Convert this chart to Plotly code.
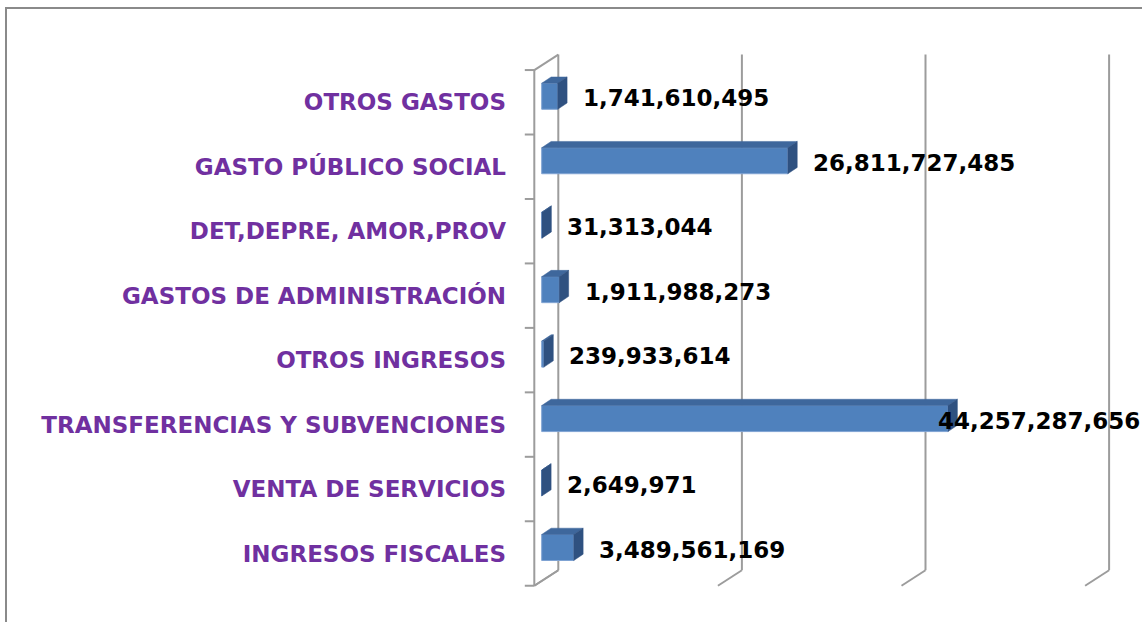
import plotly.graph_objects as go

# ---------------- data ----------------
categories = [
    "INGRESOS FISCALES",
    "VENTA DE SERVICIOS",
    "TRANSFERENCIAS Y SUBVENCIONES",
    "OTROS INGRESOS",
    "GASTOS DE ADMINISTRACIÓN",
    "DET,DEPRE, AMOR,PROV",
    "GASTO PÚBLICO SOCIAL",
    "OTROS GASTOS",
]
values = [
    3489561169,
    2649971,
    44257287656,
    239933614,
    1911988273,
    31313044,
    26811727485,
    1741610495,
]
grid_values = [0, 20e9, 40e9, 60e9]

# ---------------- layout geometry (pixels) ----------------
W, H = 1142, 622
L, R, T, B = 515, 1142, 40, 610
X0_PX = 534.3          # front-plane zero
PX_PER_UNIT_X = 9.18 / 1e9
Y0_PX = 553.5          # centre of category 0
PX_PER_CAT = 64.46

def px_to_x(px):
    return (px - X0_PX) / PX_PER_UNIT_X

def py_to_y(py):
    return (Y0_PX - py) / PX_PER_CAT

x_range = [px_to_x(L), px_to_x(R)]
y_range = [py_to_y(B), py_to_y(T)]

dx_wall = 24 / PX_PER_UNIT_X      # depth of the 3-D box
dy_wall = 15.5 / PX_PER_CAT
bar_x0 = 7.4 / PX_PER_UNIT_X      # bar front-face offset
bar_dy = 6.0 / PX_PER_CAT
bar_w = 26 / PX_PER_CAT
ddx = 9.4 / PX_PER_UNIT_X         # bar depth
ddy = 6.3 / PX_PER_CAT

grid_col = "#9c9c9c"
front_col = "#4F81BD"
top_col = "#3E679C"
side_col = "#2F5180"

n = len(categories)
idx = list(range(n))

fig = go.Figure()
fig.add_trace(go.Bar(
    y=[i + bar_dy for i in idx],
    x=values,
    base=[bar_x0] * n,
    orientation="h",
    width=bar_w,
    marker=dict(color=front_col, line=dict(color="#7FA3D3", width=1)),
    hoverinfo="skip",
    showlegend=False,
))

shapes = []

def line(x0, y0, x1, y1, layer="below"):
    shapes.append(dict(type="line", xref="x", yref="y", x0=x0, y0=y0, x1=x1, y1=y1,
                       line=dict(color=grid_col, width=2), layer=layer))

ylo, yhi = -0.5, n - 0.5
# front axis and ticks
line(0, ylo, 0, yhi)
tick_len = 9.5 / PX_PER_UNIT_X
for k in range(n + 1):
    yy = ylo + k
    line(-tick_len, yy, 0, yy)
# side wall edges
line(0, yhi, dx_wall, yhi + dy_wall)
line(0, ylo, dx_wall, ylo + dy_wall)
# back wall gridlines + floor diagonals
for g in grid_values:
    line(g + dx_wall, ylo + dy_wall, g + dx_wall, yhi + dy_wall)
    line(g, ylo, g + dx_wall, ylo + dy_wall)

def path(pts):
    return "M " + " L ".join(f"{px},{py}" for px, py in pts) + " Z"

for i, v in zip(idx, values):
    yc = i + bar_dy
    yt = yc + bar_w / 2
    yb = yc - bar_w / 2
    xs = bar_x0
    xe = bar_x0 + v
    # top face
    shapes.append(dict(type="path", xref="x", yref="y",
                       path=path([(xs, yt), (xe, yt), (xe + ddx, yt + ddy), (xs + ddx, yt + ddy)]),
                       fillcolor=top_col, line=dict(color=top_col, width=0.5), layer="above"))
    # side face
    shapes.append(dict(type="path", xref="x", yref="y",
                       path=path([(xe, yb), (xe, yt), (xe + ddx, yt + ddy), (xe + ddx, yb + ddy)]),
                       fillcolor=side_col, line=dict(color=side_col, width=0.5), layer="above"))

# outer chart frame
def paper_x(px):
    return (px - L) / (R - L)

def paper_y(py):
    return (B - py) / (B - T)

shapes.append(dict(type="rect", xref="paper", yref="paper",
                   x0=paper_x(6), y0=paper_y(H + 10), x1=paper_x(W + 10), y1=paper_y(8),
                   line=dict(color="#8a8a8a", width=2), layer="below"))

# data labels
FS = 23
annotations = []
gap = 14 / PX_PER_UNIT_X
for i, v in zip(idx, values):
    txt = f"{v:,}"
    est_w = (sum(c.isdigit() for c in txt) * 0.696 + txt.count(",") * 0.38) * FS
    x_nat = bar_x0 + v + ddx + gap
    x_nat_px = X0_PX + x_nat * PX_PER_UNIT_X
    if x_nat_px + est_w > W:
        annotations.append(dict(x=1.0, xref="paper", y=i + 0.06, yref="y", text=txt,
                                showarrow=False, xanchor="right", yanchor="middle",
                                font=dict(family="DejaVu Sans", size=FS, color="black", weight="bold")))
    else:
        annotations.append(dict(x=x_nat, xref="x", y=i + 0.06, yref="y", text=txt,
                                showarrow=False, xanchor="left", yanchor="middle",
                                font=dict(family="DejaVu Sans", size=FS, color="black", weight="bold")))

fig.update_layout(
    width=W, height=H,
    margin=dict(l=L, r=W - R, t=T, b=H - B, pad=0),
    paper_bgcolor="white", plot_bgcolor="white",
    shapes=shapes, annotations=annotations,
    showlegend=False,
    xaxis=dict(range=x_range, visible=False, fixedrange=True),
    yaxis=dict(range=y_range, tickvals=idx, ticktext=categories,
               showgrid=False, zeroline=False, showline=False, ticks="",
               ticklabelstandoff=8,
               tickfont=dict(family="DejaVu Sans", size=FS, color="#7030A0", weight="bold"),
               fixedrange=True),
)

fig.write_html("out.html",
               config={"displayModeBar": False, "staticPlot": True},
               post_script="document.body.style.margin='0';document.body.style.overflow='hidden';")
